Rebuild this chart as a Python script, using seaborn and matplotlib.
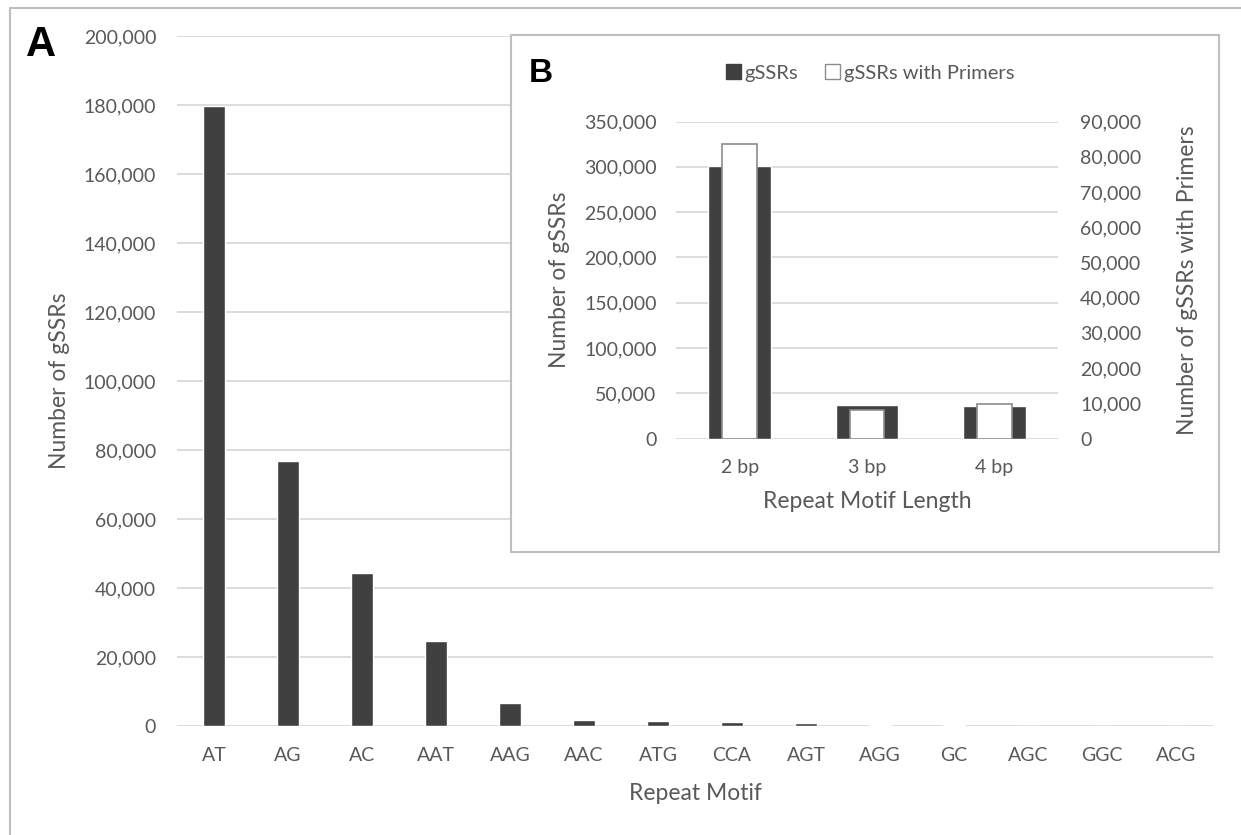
import matplotlib
matplotlib.use("Agg")
import matplotlib.pyplot as plt
import matplotlib.ticker as mticker
from matplotlib.patches import Rectangle, Patch
from matplotlib.lines import Line2D
import seaborn as sns
import pandas as pd

# 数据 (panel A)
motifs = ['AT', 'AG', 'AC', 'AAT', 'AAG', 'AAC', 'ATG', 'CCA', 'AGT', 'AGG', 'GC', 'AGC', 'GGC', 'ACG']
motif_counts = [179600, 76700, 44300, 24600, 6700, 1650, 1350, 1250, 800, 420, 400, 90, 60, 40]

# 数据 (panel B)
motif_lengths = ['2 bp', '3 bp', '4 bp']
gssr_counts = [300500, 37200, 36400]
primer_counts = [83500, 8100, 9700]

DARK = '#404040'
TXT = '#595959'
GRID = '#d9d9d9'
LABEL_FS = 16.5

sns.set_theme(style='white')
plt.rcParams['font.family'] = ['Lato', 'DejaVu Sans']

W, H = 1241, 835
fig = plt.figure(figsize=(W / 100, H / 100), dpi=100)


def px(x0, y0, x1, y1):
    # 像素坐标 -> figure 比例
    return [x0 / W, 1 - y1 / H, (x1 - x0) / W, (y1 - y0) / H]


def style_axes(ax):
    for s in ax.spines.values():
        s.set_visible(False)
    ax.tick_params(axis='both', length=0, labelsize=14, labelcolor=TXT)
    ax.yaxis.set_major_formatter(mticker.StrMethodFormatter('{x:,.0f}'))


# 外框
fig.add_artist(Line2D([10 / W, 1], [1 - 8 / H, 1 - 8 / H], transform=fig.transFigure, color='#bfbfbf', lw=1.5))
fig.add_artist(Line2D([10 / W, 10 / W], [0, 1 - 8 / H], transform=fig.transFigure, color='#bfbfbf', lw=1.5))

# ---- panel A ----
ax = fig.add_axes(px(177, 36, 1213, 726))
ax.set_zorder(0)
df_a = pd.DataFrame({'motif': motifs, 'count': motif_counts})
sns.barplot(data=df_a, x='motif', y='count', color=DARK, width=0.31, saturation=1, ax=ax)
ax.set_ylim(0, 200000)
ax.set_yticks(range(0, 200001, 20000))
ax.set_xlim(-0.5, len(motifs) - 0.5)
ax.yaxis.grid(True, color=GRID, lw=1.3)
ax.set_axisbelow(True)
style_axes(ax)
ax.tick_params(axis='x', pad=15)
ax.tick_params(axis='y', pad=15)
ax.set_xlabel('Repeat Motif', fontsize=LABEL_FS, color=TXT)
ax.set_ylabel('Number of gSSRs', fontsize=LABEL_FS, color=TXT)
ax.xaxis.set_label_coords(0.5, (726 - 793) / 690)
ax.xaxis.label.set_va('center')
ax.yaxis.set_label_coords((60 - 177) / 1036, 0.5)
ax.yaxis.label.set_va('center')

fig.text(41 / W, 1 - 45 / H, 'A', fontsize=30, fontweight='bold', family='Liberation Sans',
         ha='center', va='center', color='black')

# ---- panel B (inset) ----
fig.add_artist(Rectangle((511 / W, 1 - 552 / H), 708 / W, 517 / H, transform=fig.transFigure,
                         facecolor='white', edgecolor='#bfbfbf', lw=1.5, zorder=0.5))

axb = fig.add_axes(px(676, 121.6, 1058, 438.5))
axb.set_zorder(2)
axb.patch.set_alpha(0)
df_b = pd.DataFrame({'length': motif_lengths, 'gssr': gssr_counts, 'primers': primer_counts})
sns.barplot(data=df_b, x='length', y='gssr', color=DARK, width=0.49, saturation=1, ax=axb)
axb.set_ylim(0, 350000)
axb.set_yticks(range(0, 350001, 50000))
axb.set_xlim(-0.5, 2.5)
axb.yaxis.grid(True, color=GRID, lw=1.3)
axb.set_axisbelow(True)
style_axes(axb)
axb.tick_params(axis='x', pad=15)
axb.tick_params(axis='y', pad=14)
axb.set_xlabel('Repeat Motif Length', fontsize=LABEL_FS, color=TXT)
axb.set_ylabel('Number of gSSRs', fontsize=LABEL_FS, color=TXT)
axb.xaxis.set_label_coords(0.5, (438.5 - 502) / 317)
axb.xaxis.label.set_va('center')
axb.yaxis.set_label_coords((559 - 676) / 382, 0.5)
axb.yaxis.label.set_va('center')

ax2 = axb.twinx()
ax2.set_zorder(3)
ax2.patch.set_visible(False)
sns.barplot(data=df_b, x='length', y='primers', color='white', width=0.27, saturation=1,
            edgecolor='#8c8c8c', linewidth=1.2, ax=ax2)
ax2.set_ylim(0, 90000)
ax2.set_yticks(range(0, 90001, 10000))
ax2.set_xlim(-0.5, 2.5)
style_axes(ax2)
ax2.tick_params(axis='y', pad=16)
ax2.set_ylabel('Number of gSSRs with Primers', fontsize=LABEL_FS, color=TXT, rotation=90)
ax2.yaxis.set_label_coords((1188 - 676) / 382, 0.5)
ax2.yaxis.label.set_va('center')
ax2.yaxis.label.set_ha('center')

handles = [Patch(facecolor=DARK, edgecolor=DARK, label='gSSRs'),
           Patch(facecolor='white', edgecolor='#8c8c8c', label='gSSRs with Primers')]
fig.legend(handles=handles, loc='center', bbox_to_anchor=(870 / W, 1 - 73 / H), ncol=2,
           frameon=False, fontsize=14.5, handlelength=0.75, handleheight=0.75,
           handletextpad=0.2, columnspacing=1.3, labelcolor=TXT)

fig.text(541 / W, 1 - 73 / H, 'B', fontsize=24, fontweight='bold', family='Liberation Sans',
         ha='center', va='center', color='black')

fig.savefig('out.png', dpi=100)
